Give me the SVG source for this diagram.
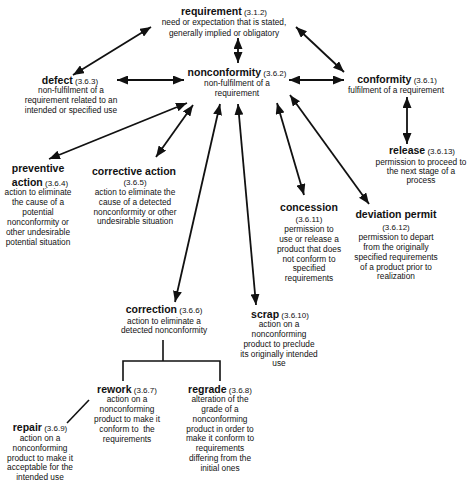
<svg xmlns="http://www.w3.org/2000/svg" width="474" height="492" viewBox="0 0 474 492">
<style>
text{font-family:"Liberation Sans",Arial,sans-serif;fill:#111;text-anchor:middle}
.t{font-weight:bold;font-size:10.5px}
.c{font-size:8px;font-weight:normal}
.d{font-size:8.3px}
.ln{stroke:#111;stroke-width:1.8;fill:none}
.ar{marker-start:url(#ah);marker-end:url(#ah)}
.tr{stroke:#111;stroke-width:1.6;fill:none}
</style>
<defs>
<marker id="ah" viewBox="0 0 11 9" refX="11" refY="4.5" markerWidth="11" markerHeight="9" markerUnits="userSpaceOnUse" orient="auto-start-reverse">
<path d="M0,0 L11,4.5 L0,9 z" fill="#111"/>
</marker>
</defs>
<rect width="474" height="492" fill="#fff"/>
<g id="connectors">
<line class="ln ar" x1="238" y1="38" x2="238" y2="63"/>
<line class="ln ar" x1="151" y1="27" x2="73" y2="75"/>
<line class="ln ar" x1="296" y1="27" x2="344" y2="72"/>
<line class="ln ar" x1="117" y1="80" x2="184" y2="80"/>
<line class="ln ar" x1="289" y1="80" x2="344" y2="80"/>
<line class="ln ar" x1="407" y1="97" x2="407" y2="144"/>
<line class="ln ar" x1="187" y1="103" x2="49" y2="159"/>
<line class="ln ar" x1="193" y1="105" x2="156" y2="157"/>
<line class="ln ar" x1="220" y1="104" x2="175" y2="302"/>
<line class="ln ar" x1="238" y1="104" x2="256" y2="305"/>
<line class="ln ar" x1="277" y1="103" x2="304" y2="195"/>
<line class="ln ar" x1="290" y1="95" x2="369" y2="204"/>
<path class="tr" d="M163,340 V361 M123,381 V361 H220 V381"/>
<line class="tr" x1="89" y1="400" x2="67" y2="423"/>
</g>
<g id="requirement">
<text x="224" y="15"><tspan class="t">requirement</tspan><tspan class="c"> (3.1.2)</tspan></text>
<text class="d" x="224" y="25">need or expectation that is stated,</text>
<text class="d" x="224" y="36">generally implied or obligatory</text>
</g>
<g id="nonconformity">
<text x="237" y="76"><tspan class="t">nonconformity</tspan><tspan class="c"> (3.6.2)</tspan></text>
<text class="d" x="237" y="86">non-fulfilment of a</text>
<text class="d" x="237" y="96">requirement</text>
</g>
<g id="defect">
<text x="70" y="84"><tspan class="t">defect</tspan><tspan class="c"> (3.6.3)</tspan></text>
<text class="d" x="71" y="93">non-fulfilment of a</text>
<text class="d" x="71" y="103">requirement related to an</text>
<text class="d" x="71" y="113">intended or specified use</text>
</g>
<g id="conformity">
<text x="397" y="83"><tspan class="t">conformity</tspan><tspan class="c"> (3.6.1)</tspan></text>
<text class="d" x="396" y="93">fulfilment of a requirement</text>
</g>
<g id="release">
<text x="422" y="154"><tspan class="t">release</tspan><tspan class="c"> (3.6.13)</tspan></text>
<text class="d" x="421" y="165">permission to proceed to</text>
<text class="d" x="421" y="174">the next stage of a</text>
<text class="d" x="421" y="183">process</text>
</g>
<g id="preventive-action">
<text class="t" x="38" y="172">preventive</text>
<text x="40" y="186"><tspan class="t">action</tspan><tspan class="c"> (3.6.4)</tspan></text>
<text class="d" x="38" y="195">action to eliminate</text>
<text class="d" x="38" y="205">the cause of a</text>
<text class="d" x="38" y="215">potential</text>
<text class="d" x="38" y="225">nonconformity or</text>
<text class="d" x="38" y="235">other undesirable</text>
<text class="d" x="38" y="245">potential situation</text>
</g>
<g id="corrective-action">
<text class="t" x="134" y="175">corrective action</text>
<text class="c" x="135" y="185">(3.6.5)</text>
<text class="d" x="135" y="195">action to eliminate the</text>
<text class="d" x="135" y="205">cause of a detected</text>
<text class="d" x="135" y="215">nonconformity or other</text>
<text class="d" x="135" y="224">undesirable situation</text>
</g>
<g id="concession">
<text class="t" x="309" y="211">concession</text>
<text class="c" x="309" y="222">(3.6.11)</text>
<text class="d" x="309" y="232">permission to</text>
<text class="d" x="309" y="242">use or release a</text>
<text class="d" x="309" y="252">product that does</text>
<text class="d" x="309" y="262">not conform to</text>
<text class="d" x="309" y="271">specified</text>
<text class="d" x="309" y="281">requirements</text>
</g>
<g id="deviation-permit">
<text class="t" x="396" y="218">deviation permit</text>
<text class="c" x="396" y="230">(3.6.12)</text>
<text class="d" x="396" y="240">permission to depart</text>
<text class="d" x="396" y="250">from the originally</text>
<text class="d" x="396" y="260">specified requirements</text>
<text class="d" x="396" y="270">of a product prior to</text>
<text class="d" x="396" y="279">realization</text>
</g>
<g id="scrap">
<text x="280" y="318"><tspan class="t">scrap</tspan><tspan class="c"> (3.6.10)</tspan></text>
<text class="d" x="279" y="327">action on a</text>
<text class="d" x="279" y="337">nonconforming</text>
<text class="d" x="279" y="347">product to preclude</text>
<text class="d" x="279" y="357">its originally intended</text>
<text class="d" x="279" y="366">use</text>
</g>
<g id="correction">
<text x="164" y="313"><tspan class="t">correction</tspan><tspan class="c"> (3.6.6)</tspan></text>
<text class="d" x="164" y="324">action to eliminate a</text>
<text class="d" x="164" y="333">detected nonconformity</text>
</g>
<g id="rework">
<text x="127" y="393"><tspan class="t">rework</tspan><tspan class="c"> (3.6.7)</tspan></text>
<text class="d" x="127" y="402">action on a</text>
<text class="d" x="127" y="412">nonconforming</text>
<text class="d" x="127" y="422">product to make it</text>
<text class="d" x="127" y="432" xml:space="preserve">conform to  the</text>
<text class="d" x="127" y="442">requirements</text>
</g>
<g id="regrade">
<text x="220" y="393"><tspan class="t">regrade</tspan><tspan class="c"> (3.6.8)</tspan></text>
<text class="d" x="220" y="402">alteration of the</text>
<text class="d" x="220" y="412">grade of a</text>
<text class="d" x="220" y="422">nonconforming</text>
<text class="d" x="220" y="432">product in order to</text>
<text class="d" x="220" y="441">make it conform to</text>
<text class="d" x="220" y="451">requirements</text>
<text class="d" x="220" y="461">differing from the</text>
<text class="d" x="220" y="471">initial ones</text>
</g>
<g id="repair">
<text x="40" y="431"><tspan class="t">repair</tspan><tspan class="c"> (3.6.9)</tspan></text>
<text class="d" x="40" y="441">action on a</text>
<text class="d" x="40" y="451">nonconforming</text>
<text class="d" x="40" y="461">product to make it</text>
<text class="d" x="40" y="470">acceptable for the</text>
<text class="d" x="40" y="480">intended use</text>
</g>
</svg>
